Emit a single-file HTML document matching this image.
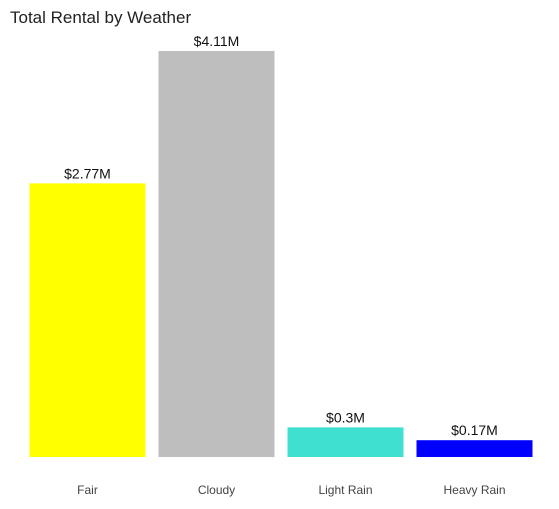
<!DOCTYPE html>
<html>
<head>
<meta charset="utf-8">
<style>
  html,body{margin:0;padding:0;background:#fff;}
  body{width:559px;height:504px;overflow:hidden;font-family:"Liberation Sans",Arial,sans-serif;}
</style>
</head>
<body>
<svg id="chart" width="559" height="504" viewBox="0 0 559 504" xmlns="http://www.w3.org/2000/svg">
  <text x="10" y="23" font-size="17" fill="#222" font-family="Liberation Sans, Arial, sans-serif">Total Rental by Weather</text>
  <g id="bars"></g>
</svg>
<script>
const categories = ["Fair", "Cloudy", "Light Rain", "Heavy Rain"];
const values = [2.77, 4.11, 0.3, 0.17];
const valueLabels = ["$2.77M", "$4.11M", "$0.3M", "$0.17M"];
const colors = ["#ffff00", "#bebebe", "#40e0d0", "#0000ff"];

const svgNS = "http://www.w3.org/2000/svg";
const g = document.getElementById("bars");
const plotLeft = 23, plotRight = 539, baseY = 457, topY = 51;
const maxV = 4.11;
const band = (plotRight - plotLeft) / categories.length;
const barW = 116;
function x(i){ return plotLeft + band * i + (band - barW) / 2; }
function y(v){ return baseY - (v / maxV) * (baseY - topY); }

categories.forEach((c, i) => {
  const r = document.createElementNS(svgNS, "rect");
  r.setAttribute("x", x(i));
  r.setAttribute("y", y(values[i]));
  r.setAttribute("width", barW);
  r.setAttribute("height", baseY - y(values[i]));
  r.setAttribute("fill", colors[i]);
  
  
  g.appendChild(r);

  const t = document.createElementNS(svgNS, "text");
  t.setAttribute("x", x(i) + barW / 2);
  t.setAttribute("y", y(values[i]) - 5);
  t.setAttribute("text-anchor", "middle");
  t.setAttribute("font-size", "14");
  t.setAttribute("fill", "#111");
  t.textContent = valueLabels[i];
  
  
  g.appendChild(t);

  const l = document.createElementNS(svgNS, "text");
  l.setAttribute("x", x(i) + barW / 2);
  l.setAttribute("y", 494);
  l.setAttribute("text-anchor", "middle");
  l.setAttribute("font-size", "12");
  l.setAttribute("fill", "#444");
  l.textContent = c;
  
  
  g.appendChild(l);
});
</script>
</body>
</html>
